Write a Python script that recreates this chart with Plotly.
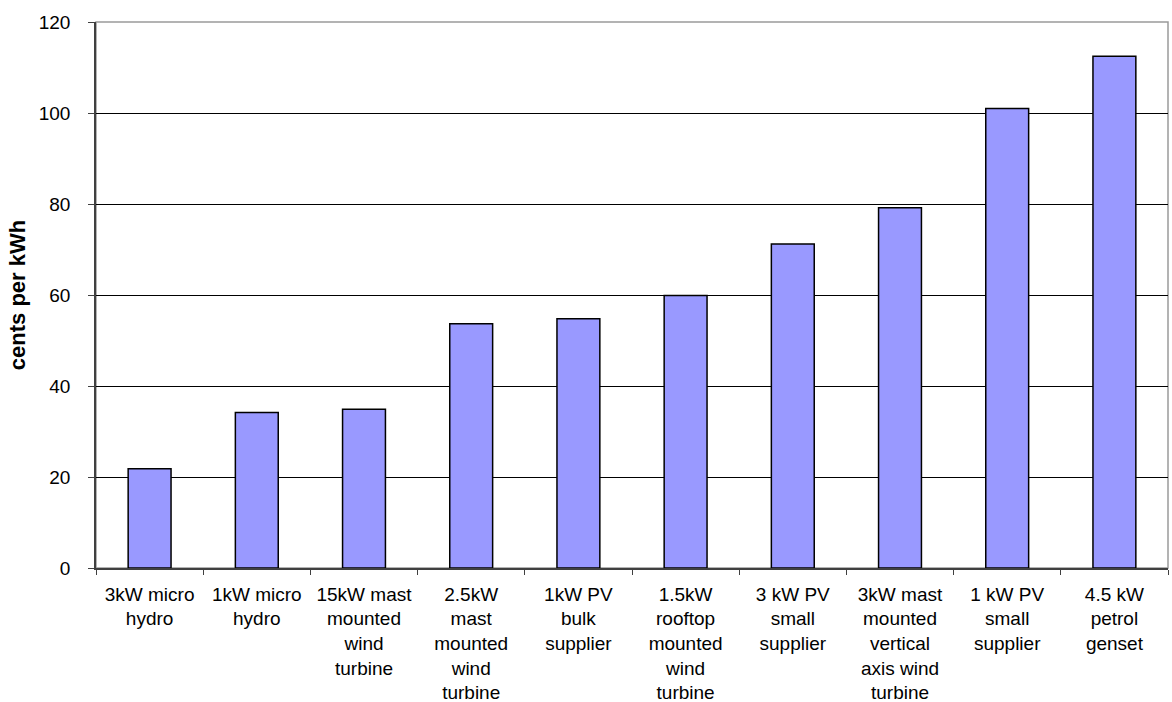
import plotly.graph_objects as go

categories = [
    "3kW micro<br>hydro",
    "1kW micro<br>hydro",
    "15kW mast<br>mounted<br>wind<br>turbine",
    "2.5kW<br>mast<br>mounted<br>wind<br>turbine",
    "1kW PV<br>bulk<br>supplier",
    "1.5kW<br>rooftop<br>mounted<br>wind<br>turbine",
    "3 kW PV<br>small<br>supplier",
    "3kW mast<br>mounted<br>vertical<br>axis wind<br>turbine",
    "1 kW PV<br>small<br>supplier",
    "4.5 kW<br>petrol<br>genset",
]
values = [21.8, 34.2, 34.9, 53.7, 54.8, 59.9, 71.2, 79.2, 101.0, 112.5]
y_ticks = [0, 20, 40, 60, 80, 100, 120]

FONT = "Liberation Sans, Arial, sans-serif"

fig = go.Figure()
fig.add_trace(go.Bar(
    x=categories,
    y=values,
    marker=dict(color="#9999FF", line=dict(color="#000000", width=1.5)),
    width=0.4,
))

fig.update_layout(
    width=1172,
    height=702,
    margin=dict(l=96, r=4, t=22, b=134),
    paper_bgcolor="white",
    plot_bgcolor="white",
    showlegend=False,
    font=dict(family=FONT, size=19, color="#000000"),
    xaxis=dict(
        type="category",
        tickson="boundaries",
        ticks="outside",
        ticklen=5,
        tickcolor="#404040",
        showline=True,
        linecolor="#404040",
        linewidth=1.5,
        showgrid=False,
        automargin=False,
        tickfont=dict(family=FONT, size=19, color="#000000"),
        ticklabelstandoff=8,
    ),
    yaxis=dict(
        range=[0, 120],
        tickvals=y_ticks,
        ticks="outside",
        ticklen=6,
        tickcolor="#404040",
        showline=True,
        linecolor="#404040",
        linewidth=1.5,
        showgrid=True,
        gridcolor="#000000",
        gridwidth=1,
        zeroline=False,
        automargin=False,
        tickfont=dict(family=FONT, size=19, color="#000000"),
        ticklabelstandoff=14,
        title=dict(text="<b>cents per kWh</b>", font=dict(family=FONT, size=22, color="#000000"), standoff=7),
    ),
)

# plot-area border (gray top and right edges)
fig.add_shape(type="rect", xref="paper", yref="paper", x0=0, y0=0, x1=1, y1=1,
              line=dict(color="#9a9a9a", width=1.5), layer="below")

fig.write_html("out.html")
